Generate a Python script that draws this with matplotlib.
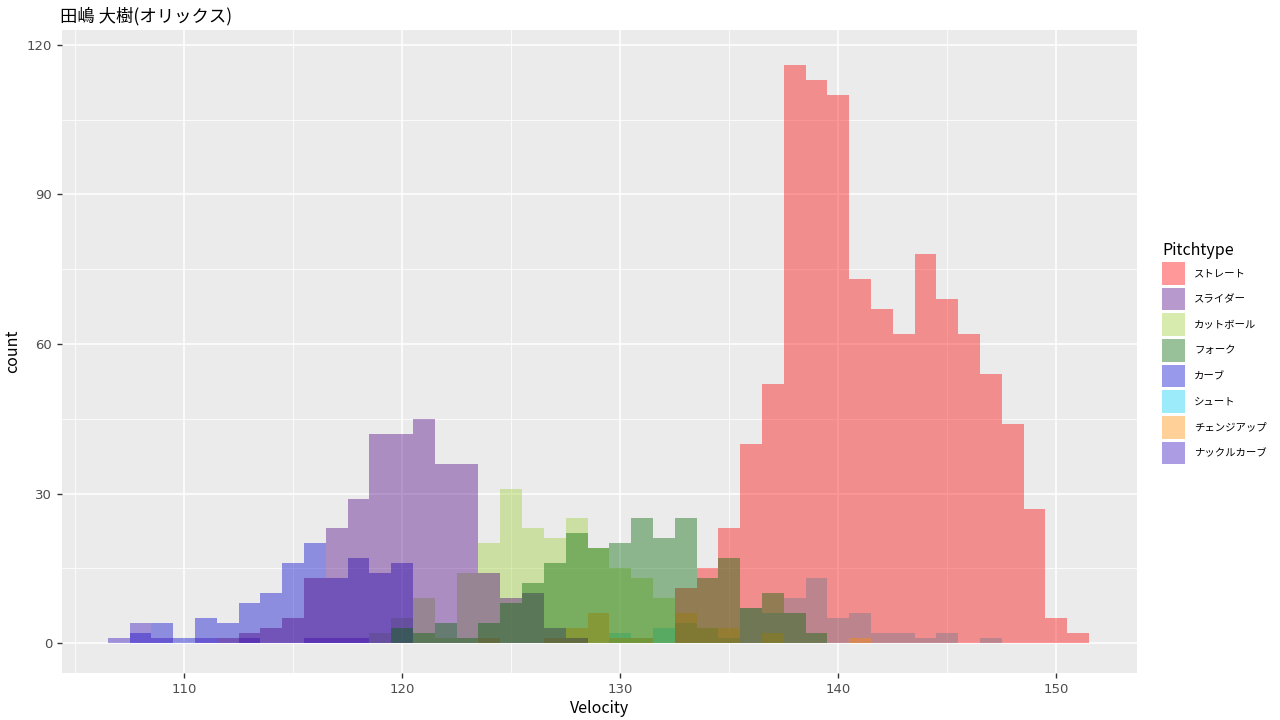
import matplotlib
matplotlib.use("Agg")
import matplotlib.pyplot as plt
from matplotlib.patches import Patch

plt.rcParams['font.family'] = ['Noto Sans CJK JP', 'DejaVu Sans']

# velocity bins (km/h), binwidth 1, centred on integers
bins = list(range(107, 152))

# counts per bin, 107 ... 151
straight = [0, 0, 0, 0, 0, 0, 0, 0, 0, 0,
            0, 0, 0, 0, 0, 0, 0, 0, 0, 0,
            0, 0, 0, 0, 0, 0, 11, 15, 23, 40,
            52, 116, 113, 110, 73, 67, 62, 78, 69, 62,
            54, 44, 27, 5, 2]
slider = [0, 0, 0, 0, 0, 1, 2, 3, 5, 13,
          23, 29, 42, 42, 45, 36, 36, 14, 9, 10,
          3, 1, 0, 0, 0, 0, 0, 0, 0, 0,
          0, 0, 0, 0, 0, 0, 0, 0, 0, 0,
          0, 0, 0, 0, 0]
cutter = [0, 0, 0, 0, 0, 0, 0, 0, 0, 0,
          0, 0, 2, 5, 9, 1, 14, 20, 31, 23,
          21, 25, 19, 15, 13, 9, 0, 0, 0, 0,
          0, 0, 0, 0, 0, 0, 0, 0, 0, 0,
          0, 0, 0, 0, 0]
fork = [0, 0, 0, 0, 0, 0, 0, 0, 0, 0,
        0, 0, 0, 3, 2, 4, 1, 4, 8, 12,
        16, 22, 19, 20, 25, 21, 25, 13, 17, 7,
        10, 6, 2, 0, 0, 0, 0, 0, 0, 0,
        0, 0, 0, 0, 0]
curve = [0, 2, 4, 1, 5, 4, 8, 10, 16, 20,
         13, 17, 14, 16, 0, 0, 0, 0, 0, 0,
         0, 0, 0, 0, 0, 0, 0, 0, 0, 0,
         0, 0, 0, 0, 0, 0, 0, 0, 0, 0,
         0, 0, 0, 0, 0]
shoot = [0, 0, 0, 0, 0, 0, 0, 0, 0, 0,
         0, 0, 0, 0, 0, 0, 0, 0, 0, 0,
         0, 0, 0, 2, 1, 3, 4, 3, 1, 7,
         6, 9, 13, 5, 6, 2, 2, 1, 2, 0,
         1, 0, 0, 0, 0]
changeup = [0, 0, 0, 0, 0, 0, 0, 0, 0, 0,
            0, 0, 0, 0, 0, 0, 0, 1, 0, 0,
            1, 3, 6, 1, 1, 0, 6, 3, 3, 0,
            2, 0, 0, 0, 1, 0, 0, 0, 0, 0,
            0, 0, 0, 0, 0]
knuckle_curve = [1, 4, 1, 0, 1, 0, 1, 0, 0, 1,
                 1, 1, 0, 0, 0, 0, 0, 0, 0, 0,
                 0, 0, 0, 0, 0, 0, 0, 0, 0, 0,
                 0, 0, 0, 0, 0, 0, 0, 0, 0, 0,
                 0, 0, 0, 0, 0]

legend_names = ['ストレート', 'スライダー', 'カットボール', 'フォーク',
                'カーブ', 'シュート', 'チェンジアップ', 'ナックルカーブ']
colors = {'ストレート': '#FF0000', 'スライダー': '#4B0082',
          'カットボール': '#9ACD32', 'フォーク': '#006400',
          'カーブ': '#0000CD', 'シュート': '#08CEF5',
          'チェンジアップ': '#FF8C00', 'ナックルカーブ': '#3008BC'}
series = {'ストレート': straight, 'スライダー': slider, 'カットボール': cutter,
          'フォーク': fork, 'カーブ': curve, 'シュート': shoot,
          'チェンジアップ': changeup, 'ナックルカーブ': knuckle_curve}
# layer order (bottom to top)
draw_order = ['シュート', 'ストレート', 'カットボール', 'カーブ', 'ナックルカーブ',
              'チェンジアップ', 'スライダー', 'フォーク']
alpha = 0.4

fig = plt.figure(figsize=(12.8, 7.2), dpi=100)
ax = fig.add_axes([62/1280, 1-673/720, (1137-62)/1280, (673-30)/720])
ax.set_facecolor('#EBEBEB')

for name in draw_order:
    ax.bar(bins, series[name], width=1.0, color=colors[name], alpha=alpha,
           linewidth=0, zorder=3)

ax.set_xlim(104.4, 153.7)
ax.set_ylim(-6.0, 123.0)
ax.set_xticks([110, 120, 130, 140, 150])
ax.set_xticks([105, 115, 125, 135, 145], minor=True)
ax.set_yticks([0, 30, 60, 90, 120])
ax.set_yticks([15, 45, 75, 105], minor=True)
ax.grid(which='major', color='white', linewidth=1.1, zorder=0)
ax.grid(which='minor', color='white', linewidth=0.55, zorder=0)
ax.set_axisbelow(True)
for s in ax.spines.values():
    s.set_visible(False)
ax.tick_params(which='major', length=3.5, width=1, color='#333333',
               labelsize=9.5, labelcolor='#4D4D4D')
ax.tick_params(which='minor', length=0)
for lab in ax.get_xticklabels() + ax.get_yticklabels():
    lab.set_family('DejaVu Sans')
ax.set_xlabel('Velocity', fontsize=11.5, labelpad=3)
ax.set_ylabel('count', fontsize=11.5, labelpad=4)
fig.text(60/1280, 1-16/720, '田嶋 大樹(オリックス)', fontsize=12.5,
         ha='left', va='center')

handles = [Patch(facecolor=colors[n], alpha=alpha, linewidth=0) for n in legend_names]
leg = fig.legend(handles, legend_names, loc='upper left',
                 bbox_to_anchor=(1162/1280, 1-242/720), frameon=False,
                 title='Pitchtype', title_fontsize=11.5, fontsize=7.5,
                 handlelength=2.2, handleheight=2.95, labelspacing=0.3,
                 handletextpad=0.9, borderaxespad=0, borderpad=0)
leg._legend_box.align = 'left'

fig.savefig('out.png', dpi=100)
